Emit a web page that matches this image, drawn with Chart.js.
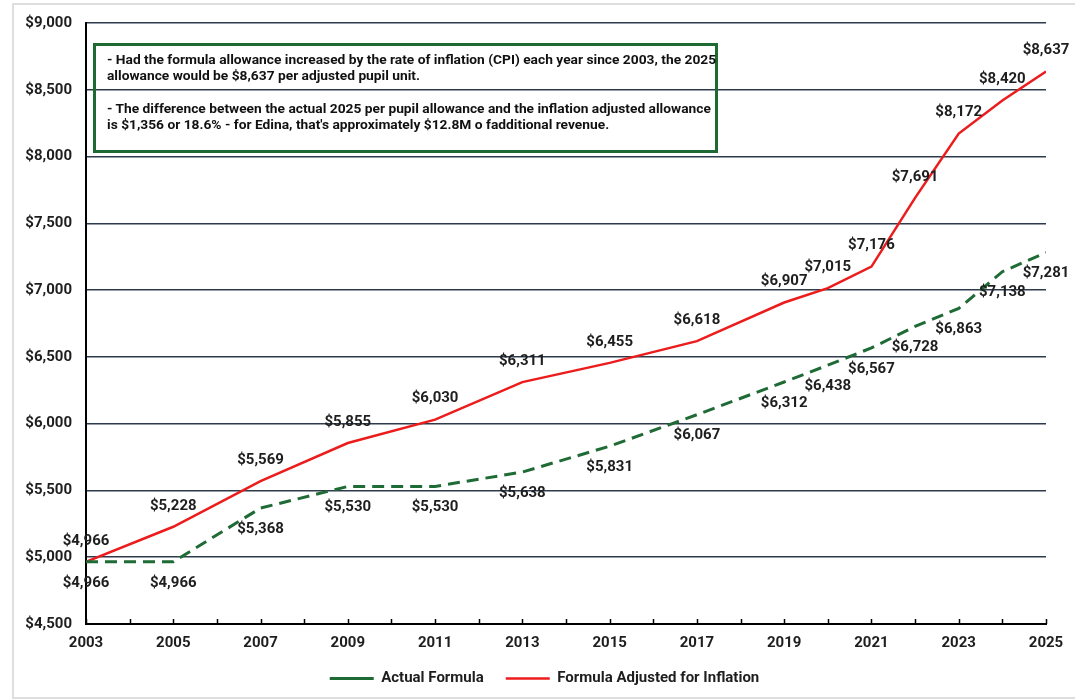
<!DOCTYPE html>
<html>
<head>
<meta charset="utf-8">
<script src="https://cdn.jsdelivr.net/npm/chart.js@4.4.1/dist/chart.umd.min.js"></script>
<style>
    body { margin: 0; background: #fff; font-family: Roboto, sans-serif; }
    #wrap { position: relative; width: 1075px; height: 699px; overflow: hidden; }
    #frame {
        position: absolute; left: 12px; top: 3px; width: 1100px; height: 692px;
        border: 2px solid #dedede; border-right: none;
    }
    #chart { position: absolute; left: 0; top: 0; }
    #note {
        position: absolute; left: 93px; top: 43px; width: 625px; height: 110px;
        box-sizing: border-box; border: 3px solid #1d6a32;
        font: bold 13px Roboto, sans-serif; color: #111;
        padding: 6px 0 0 11px;
    }
    #note .ln { white-space: nowrap; height: 16px; line-height: 16px; }
    #note .ln span { display: inline-block; transform-origin: left center; }
    #note .gap { height: 17px; }
</style>
</head>
<body>
<div id="wrap">
    <div id="frame"></div>
    <canvas id="chart" width="1075" height="699"></canvas>
    <div id="note">
        <div class="ln"><span>- Had the formula allowance increased by the rate of inflation (CPI) each year since 2003, the 2025</span></div>
        <div class="ln"><span>allowance would be $8,637 per adjusted pupil unit.</span></div>
        <div class="gap"></div>
        <div class="ln"><span>- The difference between the actual 2025 per pupil allowance and the inflation adjusted allowance</span></div>
        <div class="ln"><span>is $1,356 or 18.6% - for Edina, that's approximately $12.8M o fadditional revenue.</span></div>
    </div>
</div>
<script>
// ==============================
// DATA
// ==============================
const years = [2003, 2005, 2007, 2009, 2011, 2013, 2015, 2017, 2019, 2020, 2021, 2022, 2023, 2024, 2025];
const actualFormula = [4966, 4966, 5368, 5530, 5530, 5638, 5831, 6067, 6312, 6438, 6567, 6728, 6863, 7138, 7281];
const adjustedForInflation = [4966, 5228, 5569, 5855, 6030, 6311, 6455, 6618, 6907, 7015, 7176, 7691, 8172, 8420, 8637];
const yTicks = [4500, 5000, 5500, 6000, 6500, 7000, 7500, 8000, 8500, 9000];
const xLabelYears = [2003, 2005, 2007, 2009, 2011, 2013, 2015, 2017, 2019, 2021, 2023, 2025];

const money = v => "$" + v.toLocaleString("en-US");
const toPoints = arr => arr.map((v, i) => ({ x: years[i], y: v }));

// ==============================
// NOTE BOX (squeeze text like the condensed original)
// ==============================
const spans = document.querySelectorAll("#note .ln span");
const scale = 609 / spans[0].offsetWidth;
spans.forEach(s => { s.style.transform = "scaleX(" + scale + ")"; });

// ==============================
// PLUGINS
// ==============================
// value labels: red above the line, green below
const valueLabels = {
    id: "valueLabels",
    afterDatasetsDraw(chart) {
        const ctx = chart.ctx;
        ctx.save();
        ctx.font = "bold 15px Roboto";
        ctx.fillStyle = "#1e1e1e";
        ctx.textAlign = "center";
        ctx.textBaseline = "middle";
        chart.data.datasets.forEach((ds, i) => {
            const meta = chart.getDatasetMeta(i);
            const dy = i === 0 ? 21 : -21;
            meta.data.forEach((pt, j) => {
                const text = money(ds.data[j].y);
                const w = ctx.measureText(text).width;
                const x = Math.min(pt.x, chart.width - 1 - w / 2);
                ctx.fillText(text, x, pt.y + dy);
            });
        });
        ctx.restore();
    }
};

// small tick marks pointing into the plot on the x axis
const innerTicks = {
    id: "innerTicks",
    afterDraw(chart) {
        const sx = chart.scales.x;
        const ctx = chart.ctx;
        const bottom = chart.chartArea.bottom;
        ctx.save();
        ctx.strokeStyle = "#000";
        ctx.lineWidth = 1.5;
        ctx.beginPath();
        sx.ticks.forEach(t => {
            const x = Math.round(sx.getPixelForValue(t.value)) + 0.5;
            ctx.moveTo(x, bottom);
            ctx.lineTo(x, bottom - 5);
        });
        ctx.stroke();
        ctx.restore();
    }
};

const tickFont = { family: "Roboto", size: 15, weight: "bold" };

// ==============================
// CHART
// ==============================
new Chart(document.getElementById("chart"), {
    type: "line",
    data: {
        datasets: [{
            label: "Actual Formula",
            data: toPoints(actualFormula),
            borderColor: "#1f6b35",
            backgroundColor: "#1f6b35",
            borderWidth: 3,
            borderDash: [12, 7],
            pointRadius: 0,
            tension: 0
        }, {
            label: "Formula Adjusted for Inflation",
            data: toPoints(adjustedForInflation),
            borderColor: "#ec1c1c",
            backgroundColor: "#ec1c1c",
            borderWidth: 2.5,
            pointRadius: 0,
            tension: 0
        }]
    },
    options: {
        responsive: false,
        animation: false,
        layout: { padding: { left: 14, right: 0, top: 22, bottom: 3 } },
        plugins: {
            tooltip: { enabled: false },
            legend: {
                position: "bottom",
                labels: {
                    usePointStyle: true,
                    pointStyle: "line",
                    pointStyleWidth: 44,
                    padding: 22,
                    color: "#1e1e1e",
                    font: tickFont
                }
            }
        },
        scales: {
            x: {
                type: "linear",
                min: 2003,
                max: 2025,
                afterFit(s) { s.height = 25; },
                afterBuildTicks(s) {
                    s.ticks = [];
                    for (let y = years[0]; y <= years[years.length - 1]; y++) s.ticks.push({ value: y });
                },
                ticks: {
                    autoSkip: false,
                    maxRotation: 0,
                    padding: 10,
                    color: "#1e1e1e",
                    font: tickFont,
                    callback: v => xLabelYears.includes(v) ? String(v) : ""
                },
                grid: { drawOnChartArea: false, drawTicks: false },
                border: { display: true, color: "#000", width: 2 }
            },
            y: {
                min: 4500,
                max: 9000,
                afterFit(s) { s.width = 72; },
                afterBuildTicks(s) { s.ticks = yTicks.map(v => ({ value: v })); },
                ticks: {
                    padding: 14,
                    color: "#1e1e1e",
                    font: tickFont,
                    callback: v => money(v)
                },
                grid: { color: "#2e3b4c", lineWidth: 1.5, drawTicks: false },
                border: { display: true, color: "#000", width: 2 }
            },
            // empty right margin box so the legend centres like the original
            yRight: {
                position: "right",
                afterFit(s) { s.width = 29; },
                ticks: { display: false },
                grid: { display: false, drawTicks: false },
                border: { display: false }
            }
        }
    },
    plugins: [valueLabels, innerTicks]
});
</script>
</body>
</html>
